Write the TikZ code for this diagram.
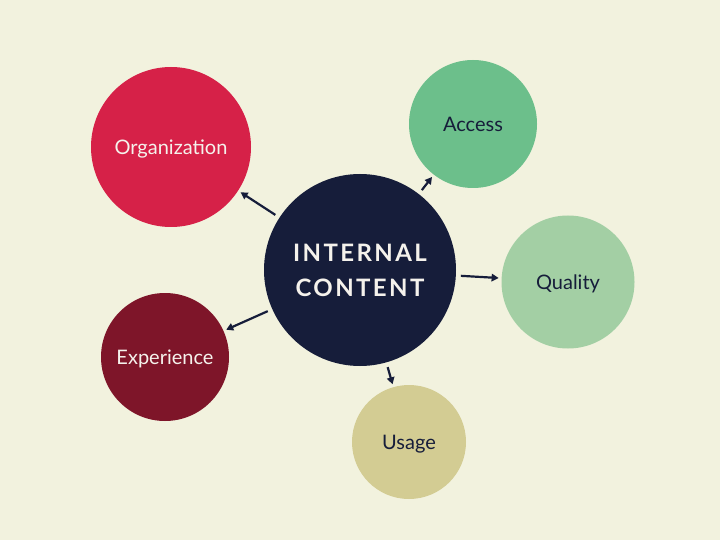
\documentclass[tikz,border=0pt]{standalone}
\usepackage{fontspec}
\setmainfont{Lato}
\newfontfamily\titlefont[LetterSpace=10]{Lato}
\usetikzlibrary{arrows.meta}
\definecolor{bg}{HTML}{F2F2DE}
\definecolor{navy}{HTML}{161D3A}
\definecolor{orgred}{HTML}{D62148}
\definecolor{accgreen}{HTML}{6CBF8B}
\definecolor{qualgreen}{HTML}{A3CFA4}
\definecolor{usagek}{HTML}{D3CC93}
\definecolor{expred}{HTML}{7E1529}
\definecolor{lighttext}{HTML}{F5F2EC}
\newcommand{\lbltxt}[1]{\raisebox{-7.5pt}[0pt][0pt]{#1}}
\tikzset{
  bubble/.style={circle, inner sep=0pt, outer sep=0pt, font=\fontsize{20}{22}\selectfont},
  link/.style={draw=navy, line width=2.2pt, -{Triangle[length=7pt,width=7.5pt]}, shorten <=5pt, shorten >=3pt}
}
\begin{document}
\begin{tikzpicture}[x=1pt,y=-1pt]
\fill[bg] (0,0) rectangle (720,540);
\useasboundingbox (0,0) rectangle (720,540);
\node[bubble, fill=navy, minimum size=192pt, text=lighttext, align=center,
  font=\titlefont\bfseries\fontsize{24}{35}\selectfont] (c) at (360,270) {INTERNAL\\CONTENT};
\node[bubble, fill=orgred, minimum size=160pt, text=lighttext] (org) at (171,147) {\lbltxt{Organization}};
\node[bubble, fill=accgreen, minimum size=128pt, text=navy] (acc) at (473,124) {\lbltxt{Access}};
\node[bubble, fill=qualgreen, minimum size=133pt, text=navy] (qual) at (568,282) {\lbltxt{Quality}};
\node[bubble, fill=usagek, minimum size=114pt, text=navy] (use) at (409,442) {\lbltxt{Usage}};
\node[bubble, fill=expred, minimum size=128pt, text=lighttext] (exp) at (165,357) {\lbltxt{Experience}};
\draw[link] (c) -- (org);
\draw[link] (c) -- (acc);
\draw[link] (c) -- (qual);
\draw[link] (c) -- (use);
\draw[link] (c) -- (exp);
\end{tikzpicture}
\end{document}
